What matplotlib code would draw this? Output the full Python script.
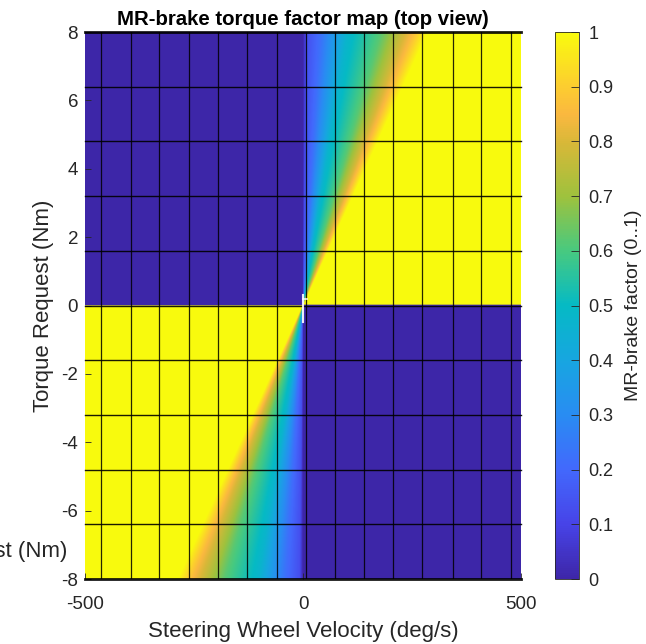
import numpy as np
import matplotlib
matplotlib.use("Agg")
import matplotlib.pyplot as plt
from matplotlib.colors import LinearSegmentedColormap

plt.rcParams['font.family'] = ['Liberation Sans', 'DejaVu Sans']
plt.rcParams['axes.unicode_minus'] = False

# brake factor profile vs ratio s = velocity / torque  (deg/s per Nm)
ratio_knots = [0, 1, 5, 12.7, 22.5, 31.5, 36]
factor_knots = [0, 0.13, 0.22, 0.47, 0.62, 0.85, 1.0]

# mesh edge positions of the surface
mesh_vel = [-464, -395, -330, -261, -195, -128, -60, 8, 73, 140, 207, 274, 343, 408, 477]
mesh_torque = [-8, -6.4, -4.8, -3.2, -1.6, 0, 1.6, 3.2, 4.8, 6.4, 8]

# small white marker at the origin
marker_vel = [0, 0]
marker_torque = [0.32, -0.49]
marker_tick_vel = [0, 9]
marker_tick_torque = [0.2, 0.2]

xticks = [-500, 0, 500]
yticks = [-8, -6, -4, -2, 0, 2, 4, 6, 8]
cbar_ticks = [0, 0.1, 0.2, 0.3, 0.4, 0.5, 0.6, 0.7, 0.8, 0.9, 1]

# parula-like colormap
parula_pos = [0.0, 0.1, 0.2, 0.3, 0.4, 0.5, 0.6, 0.7, 0.8, 0.85, 0.9, 1.0]
parula_rgb = [
    (0.2422, 0.1504, 0.6603),
    (0.2780, 0.2650, 0.9100),
    (0.2600, 0.4100, 0.9900),
    (0.1600, 0.5500, 0.9500),
    (0.0900, 0.6500, 0.8800),
    (0.0200, 0.7300, 0.7700),
    (0.2800, 0.7900, 0.5000),
    (0.6200, 0.7600, 0.2400),
    (0.8500, 0.7200, 0.2200),
    (0.9800, 0.7200, 0.2500),
    (0.9900, 0.8000, 0.1900),
    (0.9763, 0.9831, 0.0538),
]
parula = LinearSegmentedColormap.from_list("parula", list(zip(parula_pos, parula_rgb)))

GRAY = '#262626'


def factor_map(vel, torque):
    V, T = np.meshgrid(vel, torque)
    with np.errstate(divide='ignore', invalid='ignore'):
        s = np.where(T != 0, V / T, 0.0)
    return np.interp(s, ratio_knots, factor_knots, left=0, right=1)


def main():
    vel = np.linspace(-500, 500, 1001)
    torque = np.linspace(-8, 8, 801)
    F = factor_map(vel, torque)

    fig = plt.figure(figsize=(6.46, 6.44), dpi=100)
    ax = fig.add_axes([0.1316, 0.1009, 0.6749, 0.8494])
    cax = fig.add_axes([0.8591, 0.1009, 0.0372, 0.8494])

    im = ax.imshow(F, extent=[-500, 500, -8, 8], origin='lower', aspect='auto',
                   cmap=parula, vmin=0, vmax=1, interpolation='bilinear')

    for v in mesh_vel:
        ax.axvline(v, color='black', lw=0.9, alpha=0.85)
    for t in mesh_torque:
        lw = 2.0 if abs(t) == 8 else 1.0
        ax.axhline(t, color='black', lw=lw, alpha=0.9, clip_on=False)

    ax.plot(marker_vel, marker_torque, color='white', lw=1.5, alpha=0.9)
    ax.plot(marker_tick_vel, marker_tick_torque, color='white', lw=1.2, alpha=0.9)

    ax.set_xlim(-500, 500)
    ax.set_ylim(-8, 8)
    ax.set_xticks(xticks)
    ax.set_yticks(yticks)
    for sp in ax.spines.values():
        sp.set_visible(False)
    ax.tick_params(direction='in', length=4, width=0.6, color=GRAY,
                   labelcolor=GRAY, labelsize=13.5)
    ax.tick_params(axis='x', pad=12)
    ax.tick_params(axis='y', pad=5)

    ax.set_title("MR-brake torque factor map (top view)", fontsize=14.7,
                 fontweight='bold', pad=5)
    ax.set_xlabel("Steering Wheel Velocity (deg/s)", fontsize=16, color=GRAY, labelpad=6)
    ax.set_ylabel("Torque Request (Nm)", fontsize=16, color=GRAY, labelpad=5)

    # clipped leftover label at the left edge
    fig.text(67 / 646, 1 - 551 / 644, "Torque Request (Nm)", ha='right', va='center',
             fontsize=16, color=GRAY)

    cb = fig.colorbar(im, cax=cax, ticks=cbar_ticks)
    cb.ax.set_yticklabels([f"{t:g}" for t in cbar_ticks])
    cb.outline.set_edgecolor(GRAY)
    cb.outline.set_linewidth(0.6)
    cb.ax.tick_params(direction='in', length=6, width=0.6, color=GRAY,
                      labelcolor=GRAY, labelsize=13, pad=7)
    cb.set_label("MR-brake factor (0..1)", fontsize=14, color=GRAY, labelpad=8)

    fig.savefig("out.png", dpi=100)


if __name__ == '__main__':
    main()
